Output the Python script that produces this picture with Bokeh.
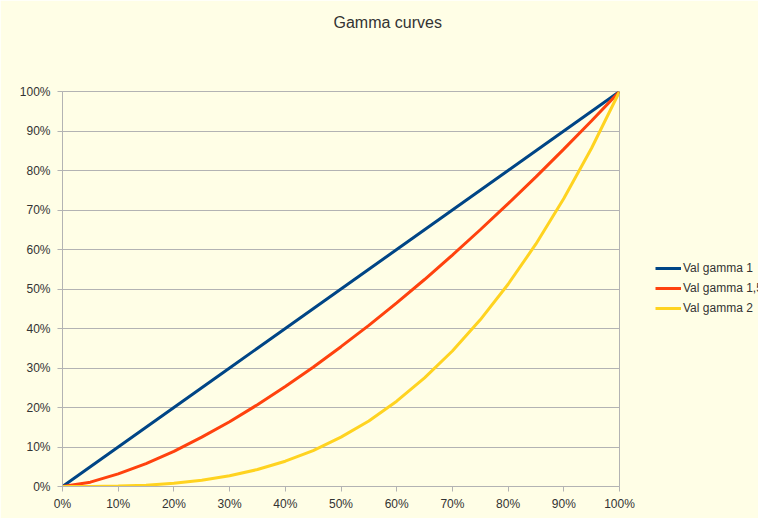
from bokeh.plotting import figure
from bokeh.models import Range1d, NumeralTickFormatter, FixedTicker, Legend, LegendItem, Title
from bokeh.embed import file_html
from bokeh.resources import INLINE

# Data (x in fraction of 100%)
x_vals = [0.00, 0.05, 0.10, 0.15, 0.20, 0.25, 0.30, 0.35, 0.40, 0.45, 0.50,
          0.55, 0.60, 0.65, 0.70, 0.75, 0.80, 0.85, 0.90, 0.95, 1.00]
gamma_1 = [0.000, 0.050, 0.100, 0.150, 0.200, 0.250, 0.300, 0.350, 0.400, 0.450, 0.500,
           0.550, 0.600, 0.650, 0.700, 0.750, 0.800, 0.850, 0.900, 0.950, 1.000]
gamma_15 = [0.000, 0.011, 0.032, 0.058, 0.089, 0.125, 0.164, 0.207, 0.253, 0.302, 0.354,
            0.408, 0.465, 0.524, 0.586, 0.650, 0.716, 0.784, 0.854, 0.926, 1.000]
gamma_2 = [0.000, 0.000, 0.001, 0.003, 0.008, 0.016, 0.027, 0.043, 0.064, 0.091, 0.125,
           0.166, 0.216, 0.275, 0.343, 0.422, 0.512, 0.614, 0.729, 0.857, 1.000]
series_names = ["Val gamma 1", "Val gamma 1,5", "Val gamma 2"]
series_colors = ["#004586", "#ff420e", "#ffd320"]
tick_values = [0.0, 0.1, 0.2, 0.3, 0.4, 0.5, 0.6, 0.7, 0.8, 0.9, 1.0]

BG = "#fffee6"
FONT = "Liberation Sans"
TXT = "#333333"
GRID = "#b3b3b3"

p = figure(frame_width=557, frame_height=395,
           min_border_left=62, min_border_right=139, min_border_top=91, min_border_bottom=32,
           x_range=Range1d(0, 1), y_range=Range1d(0, 1),
           output_backend="svg", toolbar_location=None)

p.background_fill_color = BG
p.border_fill_color = BG
p.outline_line_color = GRID

p.title.text = "Gamma curves"
p.title.align = "left"
p.title.offset = 271
p.title.standoff = 0
p.title.vertical_align = "top"
p.title.text_font = FONT
p.title.text_font_size = "16px"
p.title.text_font_style = "normal"
p.title.text_color = TXT

# empty spacer panel between title and plot frame
spacer = Title(text=" ", standoff=40, text_font=FONT, text_font_size="16px")
p.add_layout(spacer, "above")

for ax in (p.xaxis[0], p.yaxis[0]):
    ax.ticker = FixedTicker(ticks=tick_values)
    ax.formatter = NumeralTickFormatter(format="0%")
    ax.major_label_text_font = FONT
    ax.major_label_text_font_size = "12px"
    ax.major_label_text_color = TXT
    ax.axis_line_color = GRID
    ax.major_tick_line_color = GRID
    ax.minor_tick_line_color = None
    ax.major_tick_in = 0
    ax.major_tick_out = 5
p.yaxis[0].major_label_standoff = 7
p.xaxis[0].major_label_standoff = 5

p.xgrid.grid_line_color = None
p.ygrid.grid_line_color = GRID
p.ygrid.ticker = FixedTicker(ticks=tick_values)

renderers = []
for ys, col in zip([gamma_1, gamma_15, gamma_2], series_colors):
    r = p.line(x_vals, ys, line_color=col, line_width=3)
    renderers.append(r)

legend = Legend(items=[LegendItem(label=n, renderers=[r]) for n, r in zip(series_names, renderers)],
                location=(36, 168))
legend.background_fill_alpha = 0
legend.border_line_color = None
legend.padding = 0
legend.margin = 0
legend.spacing = 0
legend.glyph_width = 26
legend.glyph_height = 20
legend.label_height = 20
legend.label_standoff = 2
legend.label_text_font = FONT
legend.label_text_font_size = "12px"
legend.label_text_color = TXT
p.add_layout(legend, "right")

open("out.html", "w").write(file_html(p, INLINE))
